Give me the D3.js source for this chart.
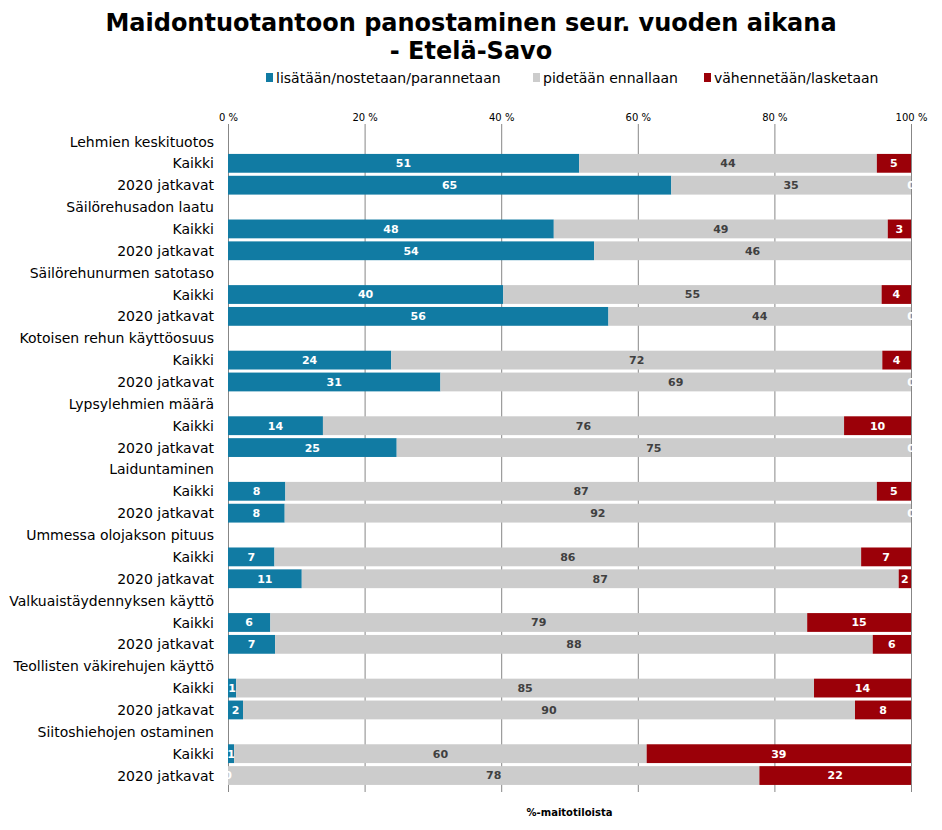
<!DOCTYPE html>
<html><head><meta charset="utf-8">
<script src="https://cdn.jsdelivr.net/npm/d3@7"></script>
<style>body{margin:0;background:#fff}svg{display:block}</style>
</head><body>
<script>
const title1 = "Maidontuotantoon panostaminen seur. vuoden aikana";
const title2 = "- Etelä-Savo";
const seriesNames = ["lisätään/nostetaan/parannetaan", "pidetään ennallaan", "vähennetään/lasketaan"];
const groups = ["Lehmien keskituotos", "Säilörehusadon laatu", "Säilörehunurmen satotaso",
  "Kotoisen rehun käyttöosuus", "Lypsylehmien määrä", "Laiduntaminen", "Ummessa olojakson pituus",
  "Valkuaistäydennyksen käyttö", "Teollisten väkirehujen käyttö", "Siitoshiehojen ostaminen"];
const subgroups = ["Kaikki", "2020 jatkavat"];
// values per bar row (Kaikki, 2020 jatkavat for each group)
const increase = [51.4, 64.9, 47.7, 53.6, 40.3, 55.7, 23.9, 31.1, 13.9, 24.7, 8.4, 8.3, 6.8, 10.8, 6.2, 6.9, 1.2, 2.2, 0.9, 0];
const keep     = [43.6, 35.1, 48.9, 46.4, 55.4, 44.3, 71.9, 68.9, 76.3, 75.3, 86.6, 91.7, 85.9, 87.4, 78.6, 87.5, 84.6, 89.6, 60.4, 77.8];
const decrease = [5.0, 0, 3.4, null, 4.3, 0, 4.2, 0, 9.8, 0, 5.0, 0, 7.3, 1.8, 15.2, 5.6, 14.2, 8.2, 38.7, 22.2];
const tickValues = [0, 20, 40, 60, 80, 100];
const axisTitle = "%-maitotiloista";
const colors = ["#117ba3", "#cccccc", "#9b0008"];
const labelColors = ["#ffffff", "#404040", "#ffffff"];

const W = 942, H = 830;
const svg = d3.select("body").append("svg").attr("width", W).attr("height", H)
  .style("font-family", "'DejaVu Sans', Verdana, sans-serif");
svg.append("rect").attr("width", W).attr("height", H).attr("fill", "#fff");

// rows: header, Kaikki, 2020 jatkavat
const rows = [];
groups.forEach((g, gi) => {
  rows.push({label: g, header: true});
  subgroups.forEach((s, si) => {
    const i = gi * 2 + si;
    rows.push({label: s, header: false, vals: [increase[i], keep[i], decrease[i]]});
  });
});

const x = d3.scaleLinear().domain([0, 100]).range([228, 911]);
const y = d3.scaleBand().domain(d3.range(rows.length)).range([129, 788]).padding(0.14);

// title
svg.append("text").attr("x", 471).attr("y", 31).attr("text-anchor", "middle")
  .attr("font-size", 24).attr("font-weight", "bold").text(title1);
svg.append("text").attr("x", 471).attr("y", 59).attr("text-anchor", "middle")
  .attr("font-size", 24).attr("font-weight", "bold").text(title2);

// legend
const legendX = [266, 533, 704];
seriesNames.forEach((n, i) => {
  svg.append("rect").attr("x", legendX[i]).attr("y", 73).attr("width", 7).attr("height", 9).attr("fill", colors[i]);
  svg.append("text").attr("x", legendX[i] + 10).attr("y", 83).attr("font-size", 14)
    .attr("fill", "#000").text(n);
});

// gridlines
svg.append("g").selectAll("line").data(tickValues).join("line")
  .attr("x1", d => x(d) + 0.5).attr("x2", d => x(d) + 0.5)
  .attr("y1", 124).attr("y2", 792)
  .attr("stroke", "#878787").attr("stroke-width", 1);

// top axis
const axis = d3.axisTop(x).tickValues(tickValues).tickFormat(d => d + " %").tickSize(0).tickPadding(0);
const ag = svg.append("g").attr("transform", "translate(0,121)").call(axis);
ag.select(".domain").remove();
ag.selectAll("text").attr("font-size", 10).attr("fill", "#000")
  .style("font-family", "'DejaVu Sans', Verdana, sans-serif");

// category labels
svg.append("g").selectAll("text").data(rows).join("text")
  .attr("x", 214).attr("y", (d, i) => y(i) + y.bandwidth() / 2)
  .attr("dy", "0.36em").attr("text-anchor", "end").attr("font-size", 14)
  .attr("fill", "#000").text(d => d.label);

// bars
const segs = [];
rows.forEach((r, i) => {
  if (r.header) return;
  let acc = 0;
  r.vals.forEach((v, k) => {
    if (v === null) return;
    segs.push({row: i, k: k, x0: acc, x1: acc + v, v: v});
    acc += v;
  });
});
svg.append("g").selectAll("rect").data(segs.filter(d => d.v > 0)).join("rect")
  .attr("x", d => x(d.x0)).attr("width", d => x(d.x1) - x(d.x0))
  .attr("y", d => y(d.row)).attr("height", y.bandwidth())
  .attr("fill", d => colors[d.k]);

// data labels
svg.append("g").selectAll("text").data(segs).join("text")
  .attr("x", d => x((d.x0 + d.x1) / 2)).attr("y", d => y(d.row) + y.bandwidth() / 2)
  .attr("dy", "0.36em").attr("text-anchor", "middle")
  .attr("font-size", 11).attr("font-weight", "bold")
  .attr("fill", d => labelColors[d.k]).text(d => Math.round(d.v));

// axis title
svg.append("text").attr("x", (x(0) + x(100)) / 2).attr("y", 816).attr("text-anchor", "middle")
  .attr("font-size", 10).attr("font-weight", "bold").text(axisTitle);
</script>
</body></html>
